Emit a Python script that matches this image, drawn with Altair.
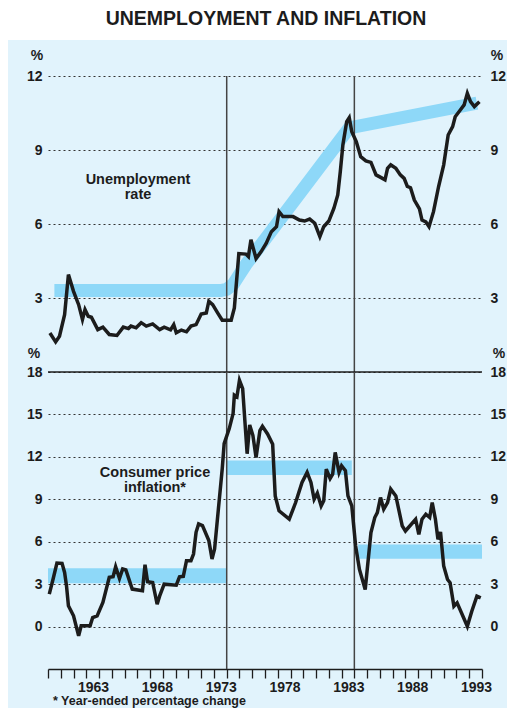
import altair as alt
import pandas as pd

# ---------------- data ----------------
unemp_t = [1959.15, 1959.6, 1959.9, 1960.3, 1960.6, 1961.0, 1961.4, 1961.7, 1961.9, 1962.15,
           1962.4, 1962.9, 1963.3, 1963.8, 1964.4, 1964.9, 1965.3, 1965.5, 1965.9, 1966.3,
           1966.7, 1967.2, 1967.75, 1968.1, 1968.6, 1968.85, 1969.05, 1969.45, 1969.85, 1970.2,
           1970.6, 1971.0, 1971.4, 1971.6, 1971.9, 1972.3, 1972.65, 1973.35, 1973.6, 1973.95,
           1974.5, 1974.7, 1974.9, 1975.3, 1975.7, 1976.1, 1976.5, 1976.9, 1977.1, 1977.4,
           1978.2, 1978.7, 1979.1, 1979.5, 1979.9, 1980.3, 1980.6, 1981.0, 1981.4, 1981.7,
           1981.9, 1982.1, 1982.4, 1982.6, 1982.8, 1983.15, 1983.5, 1983.9, 1984.3, 1984.7,
           1985.1, 1985.4, 1985.6, 1985.85, 1986.25, 1986.6, 1986.9, 1987.15, 1987.4, 1987.7,
           1988.1, 1988.3, 1988.6, 1988.85, 1989.2, 1989.6, 1990.0, 1990.35, 1990.7, 1990.9,
           1991.3, 1991.6, 1991.85, 1992.1, 1992.4, 1992.8]
unemp_v = [1.58, 1.22, 1.45, 2.32, 3.95, 3.27, 2.73, 2.13, 2.53, 2.26,
           2.22, 1.72, 1.82, 1.52, 1.48, 1.82, 1.76, 1.86, 1.79, 2.0,
           1.86, 1.95, 1.72, 1.82, 1.71, 1.92, 1.59, 1.70, 1.63, 1.86,
           1.92, 2.35, 2.39, 2.87, 2.73, 2.39, 2.10, 2.10, 2.6, 4.8,
           4.78, 4.68, 5.36, 4.6, 4.88, 5.22, 5.69, 5.89, 6.5, 6.3,
           6.3, 6.16, 6.12, 6.2, 6.03, 5.49, 5.89, 6.12, 6.64, 7.18,
           8.13, 9.2, 10.15, 10.31, 9.74, 9.34, 8.73, 8.56, 8.5, 7.99,
           7.88, 7.79, 8.26, 8.4, 8.26, 7.99, 7.85, 7.52, 7.47, 6.97,
           6.61, 6.16, 6.09, 5.89, 6.5, 7.52, 8.4, 9.61, 9.95, 10.35,
           10.62, 10.83, 11.3, 10.96, 10.76, 10.96]

trend_t = [1959.5, 1972.5, 1973.0, 1973.5, 1974.0, 1974.5, 1982.6, 1992.6]
trend_v = [3.3, 3.3, 3.35, 3.55, 3.95, 4.35, 9.9, 10.9]

cpi_t = [1959.1, 1959.4, 1959.7, 1960.1, 1960.3, 1960.45, 1960.6, 1961.0, 1961.4, 1961.6,
         1962.3, 1962.5, 1962.85, 1963.3, 1963.8, 1964.1, 1964.3, 1964.6, 1964.85, 1965.1,
         1965.6, 1966.4, 1966.6, 1966.8, 1967.2, 1967.55, 1967.75, 1968.1, 1969.05, 1969.3,
         1969.6, 1969.85, 1970.2, 1970.4, 1970.6, 1970.8, 1971.1, 1971.6, 1971.85, 1972.05,
         1972.4, 1972.65, 1972.8, 1973.2, 1973.5, 1973.6, 1973.8, 1974.0, 1974.25, 1974.6,
         1974.8, 1975.05, 1975.3, 1975.6, 1975.8, 1976.2, 1976.6, 1976.8, 1977.1, 1977.9,
         1978.4, 1978.9, 1979.3, 1979.6, 1979.85, 1980.1, 1980.4, 1980.6, 1980.8, 1981.1,
         1981.3, 1981.5, 1981.8, 1982.0, 1982.3, 1982.5, 1982.8, 1983.1, 1983.4, 1983.85,
         1984.3, 1984.6, 1984.8, 1985.05, 1985.3, 1985.6, 1985.85, 1986.25, 1986.75, 1987.0,
         1987.8, 1988.05, 1988.3, 1988.6, 1988.9, 1989.1, 1989.35, 1989.55, 1989.75, 1990.0,
         1990.3, 1990.5, 1990.8, 1991.05, 1991.85, 1992.2, 1992.6, 1992.9]
cpi_v = [2.29, 3.36, 4.49, 4.47, 3.83, 2.88, 1.47, 0.76, -0.66, 0.05,
         0.05, 0.64, 0.76, 1.7, 3.48, 3.52, 4.23, 3.4, 4.07, 4.0,
         2.65, 2.53, 4.37, 3.17, 3.12, 1.58, 2.17, 3.0, 2.93, 3.52,
         3.55, 4.66, 4.66, 5.13, 6.67, 7.26, 7.14, 6.08, 4.78, 5.48,
         8.8, 11.16, 12.93, 14.0, 15.06, 16.36, 16.24, 17.42, 16.83, 12.22,
         14.26, 13.52, 11.96, 13.85, 14.16, 13.62, 12.9, 9.24, 8.18, 7.59,
         8.77, 10.19, 10.9, 10.19, 9.0, 9.43, 8.53, 8.89, 11.13, 10.47,
         10.78, 12.32, 10.9, 11.37, 11.02, 9.24, 8.53, 5.7, 4.04, 2.62,
         6.64, 7.71, 8.06, 9.12, 8.3, 8.77, 9.72, 9.24, 7.12, 6.76,
         7.59, 6.52, 7.59, 7.94, 7.71, 8.77, 7.59, 6.17, 6.69, 4.28,
         3.33, 3.1, 1.44, 1.68, 0.02, 1.09, 2.15, 2.03]

band_start = [1959.0, 1973.0, 1983.3]
band_end = [1973.0, 1982.8, 1993.0]
band_lo = [3.07, 10.72, 4.79]
band_hi = [4.13, 11.74, 5.81]

break_years = [1973, 1983]
year_ticks = list(range(1959, 1994))
top_ticks = [3, 6, 9, 12]
bot_ticks = [0, 3, 6, 9, 12, 15, 18]
panel_rule = [18]

TITLE = "UNEMPLOYMENT AND INFLATION"
FOOTNOTE = "*  Year-ended percentage change"

# ---------------- style ----------------
W = 434
H_TOP = 296
H_BOT = 297
BG = "#E1F3FC"
BAND = "#8ED8F8"
INK = "#1c1c1c"
FONT = "Liberation Sans"

unemp_df = pd.DataFrame({"t": unemp_t, "v": unemp_v})
trend_df = pd.DataFrame({"t": trend_t, "v": trend_v})
cpi_df = pd.DataFrame({"t": cpi_t, "v": cpi_v})
band_df = pd.DataFrame({"s": band_start, "e": band_end, "lo": band_lo, "hi": band_hi})
break_df = pd.DataFrame({"t": break_years})
one = pd.DataFrame({"a": [0]})

xscale = alt.Scale(domain=[1959, 1993], nice=False, zero=False)
ytop = alt.Scale(domain=[0, 12], nice=False, zero=False)
ybot = alt.Scale(domain=[-3, 18], nice=False, zero=False)


def yaxis(values, orient, grid):
    return alt.Axis(values=values, orient=orient, grid=grid, gridDash=[2, 3],
                    gridColor="#333333", gridWidth=1, domain=False, ticks=False,
                    labelPadding=6 if orient == "left" else 8, title=None,
                    labelFont=FONT, labelFontSize=14, labelFontWeight="bold",
                    labelColor=INK)


def txt(text, x, y, size=14.5, align="center"):
    return alt.Chart(one).mark_text(
        text=text, font=FONT, fontSize=size, fontWeight="bold", color=INK,
        align=align, baseline="alphabetic"
    ).encode(x=alt.value(x), y=alt.value(y))


# ---------------- top panel ----------------
x_top = alt.X("t:Q", scale=xscale, axis=None)

white = alt.Chart(one).mark_rect(color="white").encode(
    x=alt.value(-40), x2=alt.value(W + 25), y=alt.value(-68), y2=alt.value(-36))

trend = alt.Chart(trend_df).mark_line(color=BAND, strokeWidth=13, strokeCap="butt",
                                      strokeJoin="round").encode(
    x=x_top, y=alt.Y("v:Q", scale=ytop, axis=yaxis(top_ticks, "left", True)))

rules_top = alt.Chart(break_df).mark_rule(color="#444444", strokeWidth=1.5).encode(
    x=x_top, y=alt.value(0), y2=alt.value(H_TOP))

unemp = alt.Chart(unemp_df).mark_line(color=INK, strokeWidth=3.5, strokeJoin="miter").encode(
    x=x_top, y=alt.Y("v:Q", scale=ytop, axis=yaxis(top_ticks, "right", False)))

top = alt.layer(
    white,
    txt(TITLE, 218, -51, size=19.5),
    trend, rules_top, unemp,
    txt("%", -11, -16, size=14),
    txt("%", W + 15, -16, size=14),
    txt("Unemployment", 90, 108),
    txt("rate", 90, 123),
).resolve_axis(y="independent").properties(width=W, height=H_TOP)

# ---------------- bottom panel ----------------
x_axis_bot = alt.Axis(
    values=year_ticks, format="d",
    labelExpr="(datum.value - 1963) % 5 == 0 ? datum.label : ''",
    tickSize=9, tickColor=INK, tickWidth=1.3, domainColor=INK, domainWidth=1.3,
    labelPadding=2, labelOffset=-6, labelFlush=False, labelOverlap=False,
    grid=False, title=None, labelFont=FONT, labelFontSize=14,
    labelFontWeight="bold", labelColor=INK)
x_bot = alt.X("t:Q", scale=xscale, axis=x_axis_bot)

bands = alt.Chart(band_df).mark_rect(color=BAND).encode(
    x=alt.X("s:Q", scale=xscale, axis=x_axis_bot), x2="e:Q",
    y=alt.Y("lo:Q", scale=ybot, axis=yaxis(bot_ticks, "left", True)), y2="hi:Q")

top_line = alt.Chart(pd.DataFrame({"v": panel_rule})).mark_rule(
    color=INK, strokeWidth=1.5).encode(y=alt.Y("v:Q", scale=ybot, axis=None))

rules_bot = alt.Chart(break_df).mark_rule(color="#444444", strokeWidth=1.5).encode(
    x=x_bot, y=alt.value(0), y2=alt.value(H_BOT))

cpi = alt.Chart(cpi_df).mark_line(color=INK, strokeWidth=3.5, strokeJoin="miter").encode(
    x=x_bot, y=alt.Y("v:Q", scale=ybot, axis=yaxis(bot_ticks, "right", False)))

bottom = alt.layer(
    bands, top_line, rules_bot, cpi,
    txt("%", -14, -14, size=14),
    txt("%", W + 17, -14, size=14),
    txt("Consumer price", 107, 105),
    txt("inflation*", 107, 120),
    txt(FOOTNOTE, 5, 333, size=12.5, align="left"),
).resolve_axis(y="independent").properties(width=W, height=H_BOT)

chart = alt.vconcat(top, bottom, spacing=0, bounds="flush").configure(
    background=BG, padding=0
).configure_view(stroke=None)

chart.save("out.html", embed_options={"renderer": "svg", "actions": False})
